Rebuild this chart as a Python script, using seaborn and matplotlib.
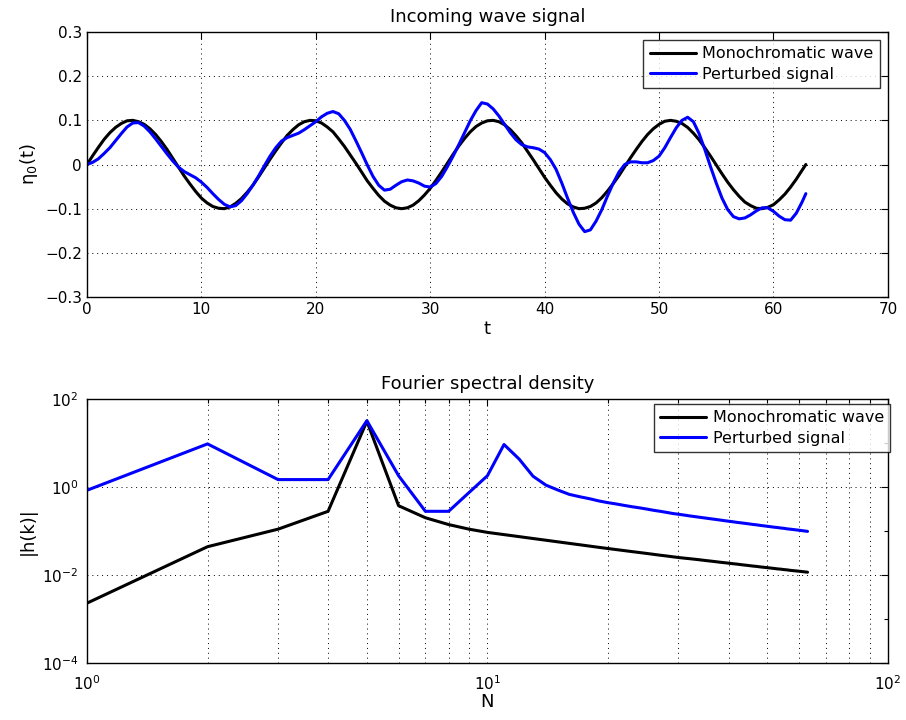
import numpy as np
import matplotlib
matplotlib.use("Agg")
import matplotlib.pyplot as plt
import seaborn as sns
from matplotlib.ticker import LogLocator, NullFormatter, FixedLocator

# ---- time signal (upper panel), sampled every 0.5 s up to t = 62.83 ----
t_signal = [i * 0.5 for i in range(126)] + [62.83]

eta_mono = [
    0.000, 0.020, 0.039, 0.057, 0.072, 0.084, 0.093, 0.099, 0.100, 0.097,
    0.091, 0.081, 0.068, 0.052, 0.034, 0.014, -0.006, -0.026, -0.044, -0.061,
    -0.076, -0.087, -0.095, -0.099, -0.100, -0.096, -0.088, -0.077, -0.063, -0.047,
    -0.028, -0.008, 0.012, 0.031, 0.049, 0.066, 0.079, 0.090, 0.097, 0.100,
    0.099, 0.094, 0.085, 0.074, 0.058, 0.041, 0.022, 0.003, -0.017, -0.037,
    -0.054, -0.070, -0.083, -0.092, -0.098, -0.100, -0.098, -0.092, -0.082, -0.069,
    -0.054, -0.036, -0.017, 0.003, 0.023, 0.042, 0.059, 0.074, 0.086, 0.094,
    0.099, 0.100, 0.097, 0.090, 0.079, 0.065, 0.049, 0.030, 0.011, -0.009,
    -0.029, -0.047, -0.064, -0.078, -0.089, -0.096, -0.100, -0.099, -0.095, -0.087,
    -0.075, -0.060, -0.043, -0.025, -0.005, 0.015, 0.034, 0.052, 0.068, 0.081,
    0.091, 0.098, 0.100, 0.098, 0.093, 0.084, 0.071, 0.056, 0.038, 0.019,
    -0.001, -0.021, -0.040, -0.057, -0.072, -0.085, -0.093, -0.099, -0.100, -0.097,
    -0.091, -0.080, -0.067, -0.051, -0.033, -0.013, 0.000,
]

eta_pert = [
    0.000, 0.005, 0.013, 0.025, 0.038, 0.054, 0.070, 0.085, 0.094, 0.095,
    0.087, 0.074, 0.058, 0.041, 0.024, 0.008, -0.006, -0.016, -0.023, -0.030,
    -0.040, -0.052, -0.066, -0.079, -0.090, -0.096, -0.093, -0.082, -0.066, -0.047,
    -0.026, -0.003, 0.019, 0.038, 0.053, 0.061, 0.066, 0.071, 0.079, 0.088,
    0.097, 0.108, 0.116, 0.120, 0.115, 0.100, 0.080, 0.054, 0.027, -0.001,
    -0.027, -0.047, -0.058, -0.056, -0.047, -0.039, -0.035, -0.037, -0.042, -0.049,
    -0.051, -0.043, -0.027, -0.005, 0.019, 0.045, 0.072, 0.099, 0.122, 0.140,
    0.137, 0.126, 0.110, 0.091, 0.072, 0.056, 0.045, 0.040, 0.038, 0.035,
    0.027, 0.011, -0.011, -0.042, -0.076, -0.108, -0.135, -0.152, -0.148, -0.128,
    -0.102, -0.071, -0.042, -0.017, 0.000, 0.006, 0.006, 0.004, 0.004, 0.009,
    0.019, 0.038, 0.061, 0.083, 0.100, 0.107, 0.097, 0.070, 0.034, -0.005,
    -0.042, -0.076, -0.102, -0.118, -0.123, -0.121, -0.114, -0.105, -0.098, -0.098,
    -0.106, -0.117, -0.125, -0.126, -0.110, -0.085, -0.066,
]

# ---- spectral density (lower panel), modes N = 1..63 ----
N_modes = list(range(1, 64))
h_mono = [
    0.0023, 0.044, 0.11, 0.28, 31.0, 0.375, 0.20, 0.14, 0.11, 0.093,
    0.0828, 0.0745, 0.0675, 0.0617, 0.0567, 0.0524, 0.0487, 0.0454, 0.0425, 0.0400,
    0.0378, 0.0358, 0.0340, 0.0324, 0.0309, 0.0295, 0.0282, 0.0271, 0.0260, 0.0250,
    0.0242, 0.0235, 0.0228, 0.0221, 0.0214, 0.0208, 0.0202, 0.0196, 0.0191, 0.0186,
    0.0181, 0.0177, 0.0172, 0.0168, 0.0164, 0.0160, 0.0157, 0.0153, 0.0150, 0.0147,
    0.0144, 0.0141, 0.0138, 0.0136, 0.0133, 0.0131, 0.0128, 0.0126, 0.0124, 0.0122,
    0.0120, 0.0118, 0.0116,
]
h_pert = [
    0.84, 9.5, 1.47, 1.47, 32.0, 1.8, 0.28, 0.28, 0.75, 1.8,
    9.2, 4.3, 1.75, 1.1, 0.85, 0.68, 0.60, 0.54, 0.48, 0.44,
    0.41, 0.38, 0.355, 0.335, 0.315, 0.295, 0.28, 0.265, 0.25, 0.24,
    0.23, 0.22, 0.212, 0.204, 0.197, 0.19, 0.184, 0.178, 0.172, 0.167,
    0.162, 0.157, 0.153, 0.149, 0.145, 0.141, 0.138, 0.134, 0.131, 0.128,
    0.125, 0.122, 0.12, 0.117, 0.115, 0.112, 0.11, 0.108, 0.106, 0.104,
    0.102, 0.100, 0.098,
]

series_names = ["Monochromatic wave", "Perturbed signal"]

sns.set_theme(style="white")
plt.rcParams["font.family"] = ["DejaVu Sans"]
plt.rcParams["axes.edgecolor"] = "black"
plt.rcParams["axes.linewidth"] = 1.0
plt.rcParams["text.color"] = "black"
plt.rcParams["axes.labelcolor"] = "black"

fig = plt.figure(figsize=(9.06, 7.2), dpi=100)
ax1 = fig.add_axes([0.096, 0.5875, 0.884, 0.368])
ax2 = fig.add_axes([0.096, 0.079, 0.884, 0.367])

grid_kw = dict(color="black", linestyle=(0, (1, 4)), linewidth=0.7)
tick_kw = dict(direction="in", top=True, right=True, colors="black",
               labelsize=11, length=5, width=0.8)
leg_kw = dict(fontsize=11.5, frameon=True, fancybox=False, edgecolor="black",
              handlelength=2.9, borderpad=0.4, labelspacing=0.35,
              handletextpad=0.4)

# Upper panel: time series
sns.lineplot(x=t_signal, y=eta_mono, ax=ax1, color="black", lw=2.2,
             label=series_names[0], sort=False)
sns.lineplot(x=t_signal, y=eta_pert, ax=ax1, color="#0000ff", lw=2.2,
             label=series_names[1], sort=False)
ax1.set_xlim(0, 70)
ax1.set_ylim(-0.3, 0.3)
ax1.set_xticks(np.arange(0, 71, 10))
ax1.set_yticks([-0.3, -0.2, -0.1, 0, 0.1, 0.2, 0.3])
ax1.set_yticklabels(["\u22120.3", "\u22120.2", "\u22120.1", "0", "0.1", "0.2", "0.3"])
ax1.grid(True, **grid_kw)
ax1.tick_params(**tick_kw)
ax1.set_title("Incoming wave signal", fontsize=13, pad=7)
ax1.set_xlabel("t", fontsize=13, labelpad=2)
ax1.set_ylabel("\u03b7$_0$(t)", fontsize=13, labelpad=4)
leg1 = ax1.legend(loc="upper right", borderaxespad=0.5, **leg_kw)
leg1.get_frame().set_linewidth(1.0)

# Lower panel: spectral density on log-log axes
sns.lineplot(x=N_modes, y=h_mono, ax=ax2, color="black", lw=2.2,
             label=series_names[0], sort=False)
sns.lineplot(x=N_modes, y=h_pert, ax=ax2, color="#0000ff", lw=2.2,
             label=series_names[1], sort=False)
ax2.set_xscale("log")
ax2.set_yscale("log")
ax2.set_xlim(1, 100)
ax2.set_ylim(1e-4, 1e2)
ax2.xaxis.set_major_locator(FixedLocator([1, 10, 100]))
ax2.xaxis.set_minor_locator(LogLocator(base=10, subs=np.arange(2, 10)))
ax2.xaxis.set_minor_formatter(NullFormatter())
ax2.yaxis.set_major_locator(FixedLocator([1e-4, 1e-2, 1e0, 1e2]))
ax2.yaxis.set_minor_locator(FixedLocator([1e-3, 1e-1, 1e1]))
ax2.yaxis.set_minor_formatter(NullFormatter())
ax2.grid(True, which="major", **grid_kw)
ax2.grid(True, which="minor", axis="x", **grid_kw)
ax2.tick_params(which="both", **tick_kw)
ax2.tick_params(which="minor", length=3)
ax2.tick_params(axis="x", which="major", pad=8)
ax2.tick_params(axis="y", which="major", pad=6)
ax2.set_title("Fourier spectral density", fontsize=13, pad=7)
ax2.set_xlabel("N", fontsize=13, labelpad=0)
ax2.set_ylabel("|h(k)|", fontsize=13, labelpad=4)
leg2 = ax2.legend(loc="upper right", bbox_to_anchor=(1.003, 0.981),
                  borderaxespad=0.0, **leg_kw)
leg2.get_frame().set_linewidth(1.0)

fig.savefig("out.png", dpi=100)
